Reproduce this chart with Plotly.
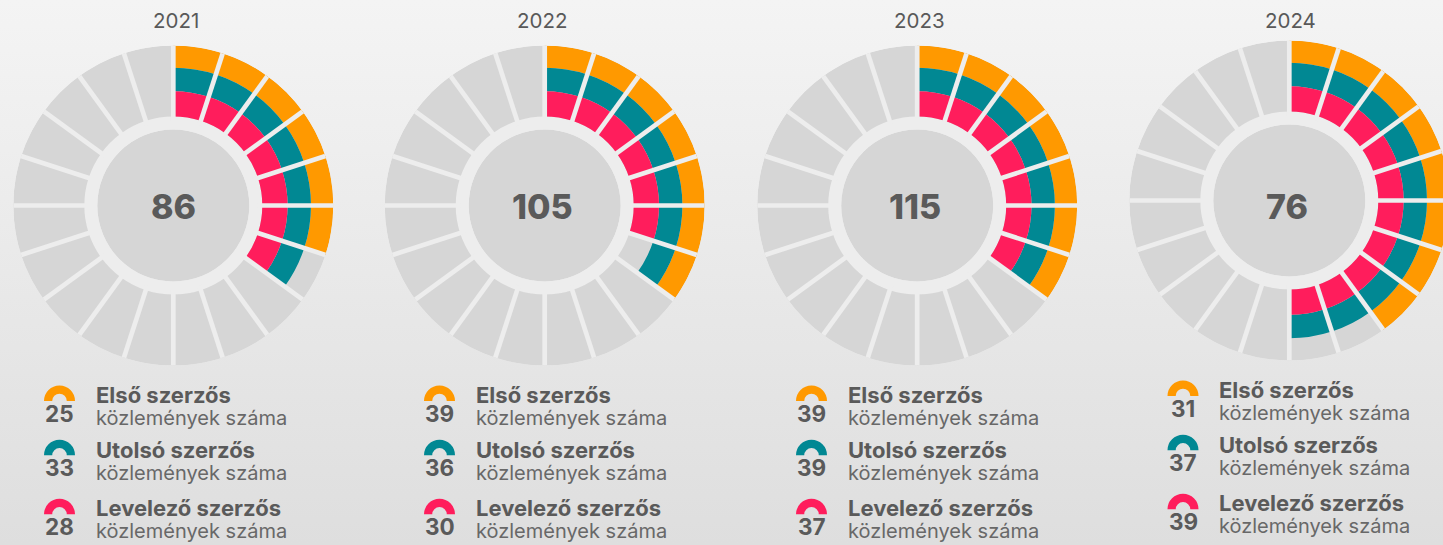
import plotly.graph_objects as go

years = ["2021", "2022", "2023", "2024"]
totals = [86, 105, 115, 76]
first_author = [25, 39, 39, 31]
last_author = [33, 36, 39, 37]
corresponding = [28, 30, 37, 39]
first_sectors = [6, 7, 7, 8]
last_sectors = [7, 7, 7, 10]
corr_sectors = [7, 6, 7, 10]
series_names = ["Első szerzős", "Utolsó szerzős", "Levelező szerzős"]
sub_label = "közlemények száma"
sector_deg = [18 * i for i in range(20)]

W, H = 1500, 545
ORANGE, TEAL, PINK = "#ff9900", "#018893", "#ff1d5c"
GRAY, RING = "#d6d6d6", "#ededed"
INK, INK2 = "#5a5a5a", "#686868"
FONT = "Inter"
colors = [ORANGE, TEAL, PINK]

cx = [173.3, 544.7, 917.2, 1289.3]
cy = [205.5, 205.5, 205.5, 200.5]
R = 160
title_x = [175.7, 541.7, 920, 1290.7]
num_x = [173, 542, 914.7, 1287]
icon_x = [59.5, 439.5, 811.5, 1183]
text_x = [94, 474, 845.5, 1217]
leg_dy = [0, 0, 0, -5]
icon_base = [401, 455.3, 514.3]
num_y = [413.2, 467.2, 526.2]
label_y = [406, 461, 518.9]
# ring extents: first (outer), last (middle), corresponding (inner)
bands = [(137.7, 160), (114.3, 137.7), (89, 114.3)]


def ann(x, y, text, size, color=INK, weight=400, anchor="center"):
    return dict(x=x / W, y=1 - y / H, xref="paper", yref="paper", text=text, showarrow=False,
                xanchor=anchor, yanchor="middle", align="left" if anchor == "left" else "center",
                font=dict(family=FONT, size=size, color=color, weight=weight))


fig = go.Figure()
anns = []
layout = {}
for i, year in enumerate(years):
    key = "polar" if i == 0 else f"polar{i + 1}"
    layout[key] = dict(
        domain=dict(x=[(cx[i] - R) / W, (cx[i] + R) / W], y=[1 - (cy[i] + R) / H, 1 - (cy[i] - R) / H]),
        bgcolor="rgba(0,0,0,0)", barmode="overlay",
        radialaxis=dict(range=[0, R], visible=False),
        angularaxis=dict(direction="clockwise", rotation=90, visible=False),
    )
    common = dict(subplot=key, showlegend=False, hoverinfo="skip")
    # centre disc and pale ring
    fig.add_trace(go.Barpolar(r=[76], base=[0], theta=[0], width=[360], marker=dict(color=GRAY, line_width=0), **common))
    fig.add_trace(go.Barpolar(r=[13], base=[76], theta=[0], width=[360], marker=dict(color=RING, line_width=0), **common))
    # empty sectors
    fig.add_trace(go.Barpolar(r=[R - bands[2][0]] * 20, base=[bands[2][0]] * 20,
                              theta=[d + 9 for d in sector_deg], width=[18] * 20,
                              marker=dict(color=GRAY, line_width=0), **common))
    # filled sectors
    counts = [first_sectors[i], last_sectors[i], corr_sectors[i]]
    for (r0, r1), n, col in zip(bands, counts, colors):
        fig.add_trace(go.Barpolar(r=[r1 - r0] * n, base=[r0] * n,
                                  theta=[d + 9 for d in sector_deg[:n]], width=[18] * n,
                                  marker=dict(color=col, line_width=0), **common))
    # constant-width separators
    sep_r, sep_t = [], []
    for d in sector_deg:
        sep_r += [84, R, None]
        sep_t += [d, d, None]
    fig.add_trace(go.Scatterpolar(r=sep_r, theta=sep_t, mode="lines",
                                  line=dict(color=RING, width=4.7), **common))

    anns.append(ann(title_x[i], 20.7, year, 20.5, "#595959"))
    anns.append(ann(num_x[i], 206.7, str(totals[i]), 34, INK, 800))

    values = [first_author[i], last_author[i], corresponding[i]]
    for j in range(3):
        dy = leg_dy[i]
        r_i = 15.5
        base = icon_base[j] + dy
        fig.add_trace(go.Pie(values=[1, 1], sort=False, direction="clockwise", rotation=-90, hole=0.47,
                             marker=dict(colors=[colors[j], "rgba(0,0,0,0)"], line=dict(width=0)),
                             textinfo="none", hoverinfo="skip", showlegend=False,
                             domain=dict(x=[(icon_x[i] - r_i) / W, (icon_x[i] + r_i) / W],
                                         y=[1 - (base + r_i) / H, 1 - (base - r_i) / H])))
        anns.append(ann(icon_x[i], num_y[j] + dy, str(values[j]), 22.5, INK, 700))
        label = (f'<span style="font-size:22px;font-weight:700;fill:{INK}">{series_names[j]}</span>'
                 f'<br><span style="font-size:20px">{sub_label}</span>')
        anns.append(ann(text_x[i], label_y[j] + dy, label, 17, INK2, 400, "left"))

fig.update_layout(width=W, height=H, margin=dict(l=0, r=0, t=0, b=0),
                  paper_bgcolor="rgba(0,0,0,0)", plot_bgcolor="rgba(0,0,0,0)",
                  annotations=anns, **layout)

fig.write_html("out.html", config={"displayModeBar": False}, post_script=(
    "document.documentElement.style.overflow='hidden';"
    "document.body.style.margin='0';document.body.style.overflow='hidden';"
    "document.body.style.height='545px';"
    "document.body.style.background='linear-gradient(180deg,#f4f4f4 0%,#dedede 100%)';"))
